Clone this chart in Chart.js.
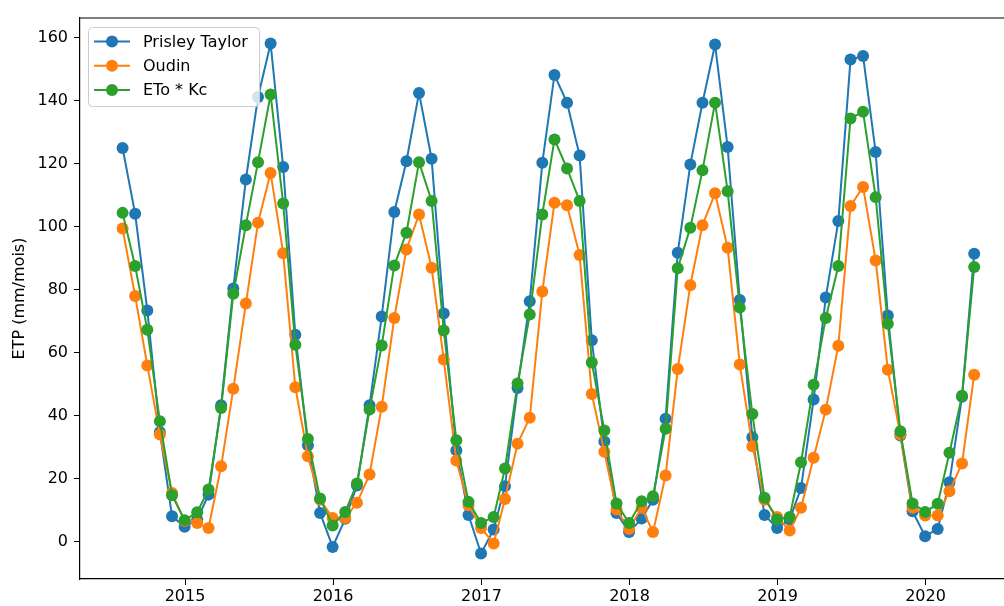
<!DOCTYPE html>
<html>
<head>
<meta charset="utf-8">
<script src="https://cdn.jsdelivr.net/npm/chart.js@4/dist/chart.umd.min.js"></script>
<style>
  html, body { margin: 0; padding: 0; background: #fff; }
</style>
</head>
<body>
<canvas id="etpChart" width="1004" height="606"></canvas>
<script>
// monthly series, one value per month-end, from July 2014 to April 2020
var firstMonth = [2014, 7];
var yearTicks = [2015, 2016, 2017, 2018, 2019, 2020];
var yTicks = [0, 20, 40, 60, 80, 100, 120, 140, 160];

var prisleyTaylor = [125.0, 104.1, 73.4, 34.8, 8.0, 4.7, 7.0, 14.9, 43.3, 80.4, 115.0, 141.2,
  158.2, 119.0, 65.7, 30.6, 9.1, -1.7, 7.2, 17.8, 43.3, 71.5, 104.7, 120.8,
  142.5, 121.6, 72.4, 29.0, 8.4, -3.8, 3.8, 17.6, 48.8, 76.3, 120.3, 148.2,
  139.4, 122.6, 63.9, 31.8, 9.1, 3.0, 7.3, 13.3, 39.0, 91.7, 119.8, 139.4,
  157.9, 125.3, 76.7, 33.1, 8.4, 4.3, 7.0, 17.0, 45.1, 77.5, 101.8, 153.1,
  154.2, 123.7, 71.8, 33.7, 9.6, 1.7, 4.0, 18.8, 46.0, 91.4];
var oudin = [99.4, 78.0, 55.9, 34.0, 15.4, 6.5, 5.9, 4.3, 23.9, 48.5, 75.6, 101.3,
  117.1, 91.6, 49.0, 27.1, 13.3, 7.5, 7.5, 12.3, 21.3, 42.8, 71.0, 92.8,
  103.9, 87.0, 57.8, 25.7, 11.5, 4.3, -0.6, 13.5, 31.1, 39.3, 79.4, 107.6,
  106.8, 91.0, 46.9, 28.5, 10.2, 4.0, 10.7, 3.0, 21.0, 54.8, 81.4, 100.5,
  110.6, 93.3, 56.2, 30.3, 13.3, 7.8, 3.5, 10.7, 26.6, 41.9, 62.2, 106.6,
  112.6, 89.3, 54.6, 34.0, 10.7, 8.3, 8.3, 16.0, 24.8, 53.0];
var etoKc = [104.4, 87.5, 67.3, 38.2, 14.7, 6.8, 9.3, 16.5, 42.4, 78.7, 100.5, 120.5,
  142.0, 107.4, 62.5, 32.6, 13.7, 5.1, 9.4, 18.4, 41.9, 62.3, 87.7, 98.1,
  120.5, 108.2, 67.0, 32.2, 12.6, 5.9, 7.8, 23.2, 50.2, 72.1, 103.9, 127.7,
  118.5, 108.2, 56.9, 35.3, 12.1, 5.9, 12.8, 14.4, 35.8, 86.8, 99.7, 117.9,
  139.4, 111.3, 74.3, 40.5, 13.9, 7.0, 7.8, 25.2, 49.8, 71.0, 87.5, 134.4,
  136.5, 109.4, 69.2, 35.0, 12.1, 9.4, 12.0, 28.2, 46.3, 87.2];

var DAY = 86400000;
function monthEnd(y, m) { return Date.UTC(y, m, 0) / DAY; }   // day number
function yearStart(y) { return Date.UTC(y, 0, 1) / DAY; }

var days = [];
for (var i = 0; i < prisleyTaylor.length; i++) {
  days.push(monthEnd(firstMonth[0], firstMonth[1] + i));
}

function toPoints(vals) {
  return vals.map(function (v, i) { return { x: days[i], y: v }; });
}

var span = days[days.length - 1] - days[0];
var xMin = days[0] - 0.05 * span;
var xMax = days[days.length - 1] + 0.035 * span;

var FONT = "'DejaVu Sans', sans-serif";

// matplotlib-like legend box in upper left + top spine
var mplLegend = {
  id: 'mplLegend',
  afterDatasetsDraw: function (chart) {
    var ctx = chart.ctx;
    var area = chart.chartArea;
    ctx.save();
    ctx.strokeStyle = '#000';
    ctx.lineWidth = 1.2;
    ctx.beginPath();
    ctx.moveTo(area.left, area.top);
    ctx.lineTo(area.right, area.top);
    ctx.stroke();

    var bx = 88, by = 27, bw = 171, bh = 79;
    ctx.beginPath();
    ctx.roundRect(bx + 0.5, by + 0.5, bw, bh, 4);
    ctx.fillStyle = 'rgba(255,255,255,0.8)';
    ctx.fill();
    ctx.strokeStyle = '#cccccc';
    ctx.lineWidth = 1;
    ctx.stroke();

    ctx.font = '16px ' + FONT;
    ctx.textBaseline = 'middle';
    ctx.textAlign = 'left';
    chart.data.datasets.forEach(function (ds, k) {
      var y = 41.5 + k * 24.2;
      ctx.strokeStyle = ds.borderColor;
      ctx.lineWidth = 2;
      ctx.beginPath();
      ctx.moveTo(94, y);
      ctx.lineTo(130, y);
      ctx.stroke();
      ctx.fillStyle = ds.borderColor;
      ctx.beginPath();
      ctx.arc(112, y, 6, 0, Math.PI * 2);
      ctx.fill();
      ctx.fillStyle = '#000';
      ctx.fillText(ds.label, 143, y + 1);
    });
    ctx.restore();
  }
};

function series(label, vals, color, order) {
  return {
    label: label,
    data: toPoints(vals),
    borderColor: color,
    backgroundColor: color,
    pointBackgroundColor: color,
    pointBorderWidth: 0,
    pointRadius: 6,
    pointHoverRadius: 6,
    borderWidth: 2,
    tension: 0,
    order: order
  };
}

var config = {
  type: 'line',
  data: {
    datasets: [
      series('Prisley Taylor', prisleyTaylor, '#1f77b4', 3),
      series('Oudin', oudin, '#ff7f0e', 2),
      series('ETo * Kc', etoKc, '#2ca02c', 1)
    ]
  },
  options: {
    responsive: false,
    animation: false,
    devicePixelRatio: 1,
    layout: { autoPadding: false, padding: { top: 18, right: 0, left: 0, bottom: 0 } },
    plugins: { legend: { display: false }, tooltip: { enabled: false } },
    scales: {
      x: {
        type: 'linear',
        min: xMin,
        max: xMax,
        afterBuildTicks: function (scale) {
          scale.ticks = yearTicks.map(function (y) { return { value: yearStart(y) }; });
        },
        afterFit: function (scale) { scale.height = 27; },
        ticks: {
          autoSkip: false,
          maxRotation: 0,
          padding: 2,
          color: '#000',
          font: { family: FONT, size: 16 },
          callback: function (v) { return new Date(v * DAY).getUTCFullYear(); }
        },
        grid: { drawOnChartArea: false, drawTicks: true, tickLength: 6, color: '#000' },
        border: { display: true, color: '#000', width: 1.2 }
      },
      y: {
        min: -11.9,
        max: 166.3,
        afterBuildTicks: function (scale) {
          scale.ticks = yTicks.map(function (v) { return { value: v }; });
        },
        afterFit: function (scale) { scale.width = 80; },
        ticks: {
          padding: 6,
          color: '#000',
          font: { family: FONT, size: 16 }
        },
        grid: { drawOnChartArea: false, drawTicks: true, tickLength: 6, color: '#000' },
        border: { display: true, color: '#000', width: 1.2 },
        title: {
          display: true,
          text: 'ETP (mm/mois)',
          color: '#000',
          font: { family: FONT, size: 16 },
          padding: { top: 10, bottom: 0 }
        }
      }
    }
  },
  plugins: [mplLegend]
};

var chart = new Chart(document.getElementById('etpChart'), config);
</script>
</body>
</html>
